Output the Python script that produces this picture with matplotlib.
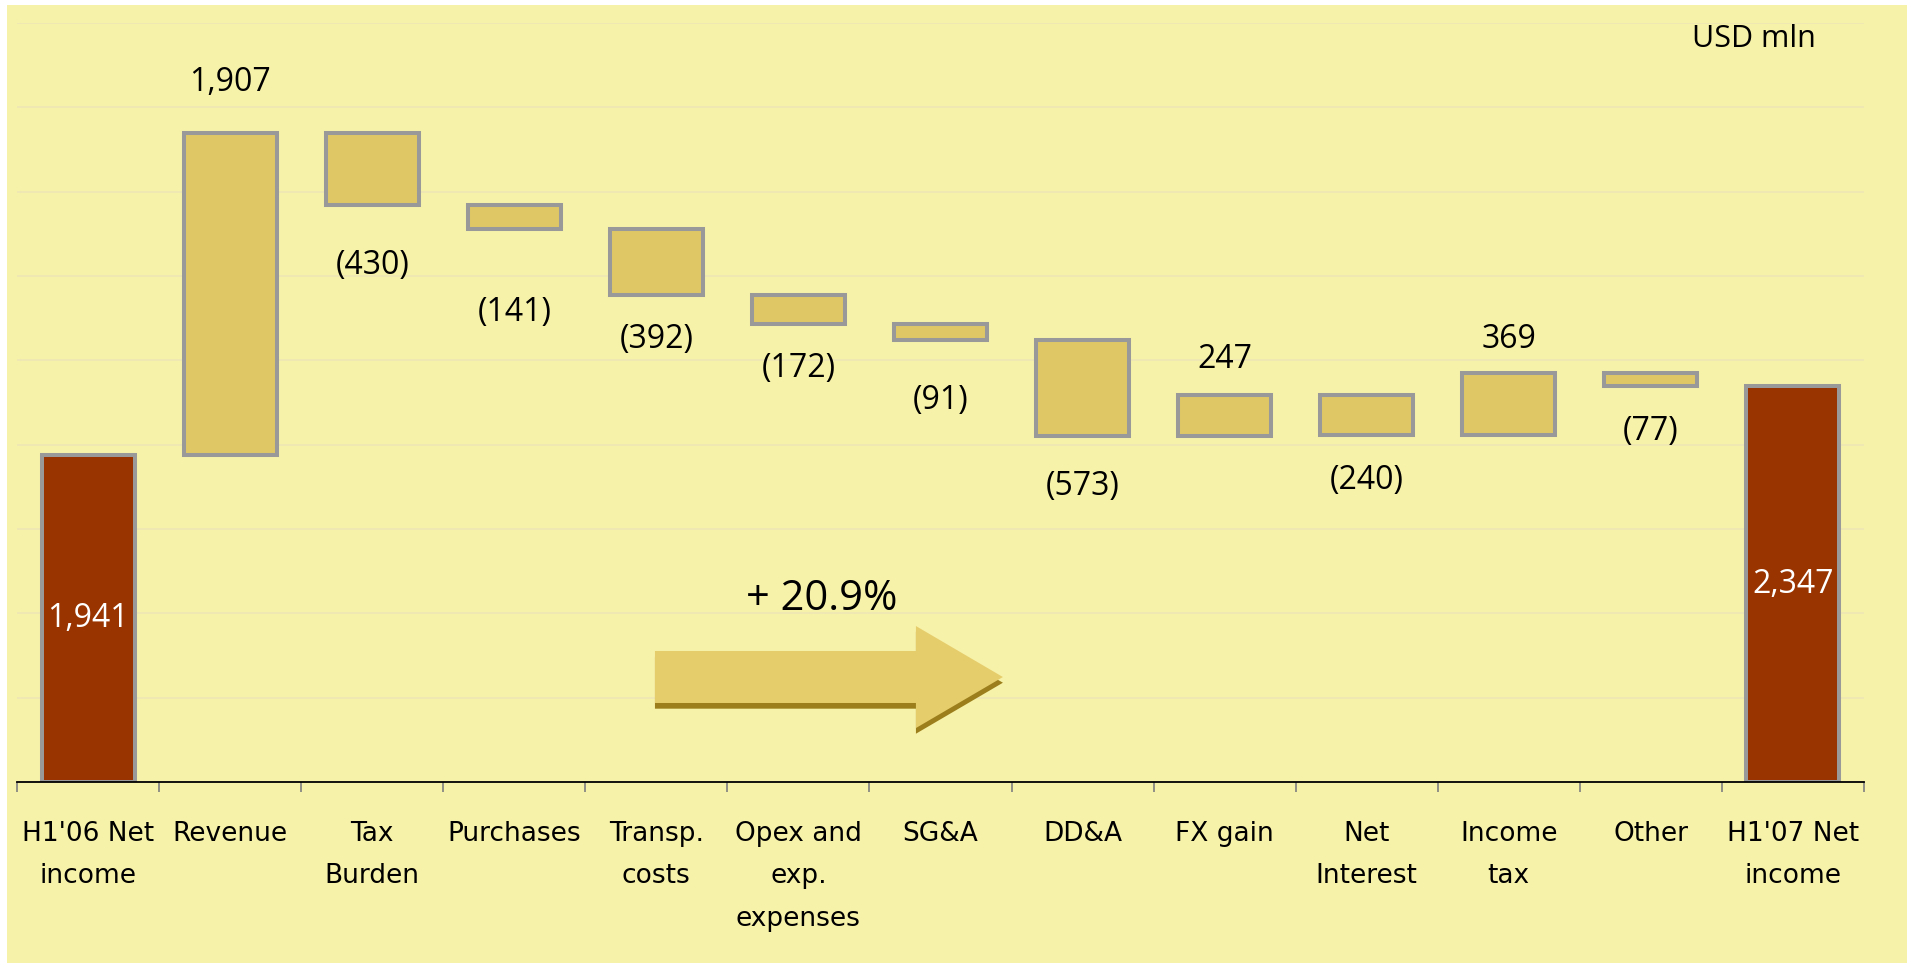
import numpy as np
import matplotlib.pyplot as plt
from matplotlib.patches import Rectangle, Polygon

categories = ["H1'06 Net\nincome", "Revenue", "Tax\nBurden", "Purchases", "Transp.\ncosts",
              "Opex and\nexp.\nexpenses", "SG&A", "DD&A", "FX gain", "Net\nInterest",
              "Income\ntax", "Other", "H1'07 Net\nincome"]
start_value = 1941
changes = [1907, -430, -141, -392, -172, -91, -573, 247, -240, 369, -77]
end_value = 2347
growth_label = "+ 20.9%"
unit_label = "USD mln"

# gap between bar edge and its label, in pixels
label_gap = [50, 60, 83, 44, 44, 61, 50, 35, 45, 33, 46]

bg = '#F7F2AA'
gold = '#DFC765'
red = '#993300'
edge = '#999999'
grid_c = '#EFE6B4'

W, H = 1909, 963
fig = plt.figure(figsize=(W / 100, H / 100), dpi=100)
fig.patch.set_facecolor('white')
fig.patches.append(Rectangle((7 / W, 0), 1900 / W, 958 / H, transform=fig.transFigure,
                             facecolor=bg, edgecolor='none', zorder=-10))

ax = fig.add_axes([17 / W, (H - 782) / H, 1847 / W, 759 / H])
ax.patch.set_visible(False)

x = np.arange(len(categories))
running = start_value + np.cumsum([0] + changes)
bottoms = [0]
heights = [start_value]
for i, c in enumerate(changes):
    bottoms.append(min(running[i], running[i + 1]))
    heights.append(abs(c))
bottoms.append(0)
heights.append(end_value)
colors = [red] + [gold] * len(changes) + [red]

ax.bar(x, heights, bottom=bottoms, width=0.655, color=colors, edgecolor=edge,
       linewidth=2.9, zorder=3)

px = 0.72  # points per pixel at dpi 100
for i, c in enumerate(changes):
    xi = i + 1
    if c > 0:
        txt = f"{c:,}"
        yv = bottoms[xi] + heights[xi]
        off = label_gap[i] * px
    else:
        txt = f"({-c:,})"
        yv = bottoms[xi]
        off = -label_gap[i] * px
    ax.annotate(txt, (xi, yv), xytext=(0, off), textcoords='offset points',
                ha='center', va='center', fontsize=23, family='Open Sans', color='black')

for xi, v in [(0, start_value), (len(categories) - 1, end_value)]:
    ax.text(xi, v / 2, f"{v:,}", ha='center', va='center', fontsize=23,
            family='Open Sans', color='white', zorder=4)

ax.set_xlim(-0.5, len(categories) - 0.5)
ax.set_ylim(0, 4500)
ax.set_yticks(np.arange(0, 4501, 500))
ax.yaxis.grid(True, color=grid_c, linewidth=1.2, zorder=0)
ax.tick_params(axis='y', left=False, labelleft=False)
for s in ['left', 'right', 'top']:
    ax.spines[s].set_visible(False)
ax.spines['bottom'].set_color('black')
ax.spines['bottom'].set_linewidth(1.3)
ax.spines['bottom'].set_zorder(5)

ax.set_xticks(x)
ax.set_xticklabels(categories, fontsize=19, family='DejaVu Sans', linespacing=1.82)
ax.tick_params(axis='x', which='major', length=0, pad=28)
ax.set_xticks(np.arange(-0.5, len(categories), 1), minor=True)
ax.tick_params(axis='x', which='minor', length=7, width=1.2, color='#7F7F7F', direction='out')

# growth arrow (decoration, axes fraction)
def arrow_pts(dy=0.0):
    return [(0.3454, 0.1726 + dy), (0.4867, 0.1726 + dy), (0.4867, 0.2055 + dy),
            (0.5338, 0.1383 + dy), (0.4867, 0.0711 + dy), (0.4867, 0.1041 + dy),
            (0.3454, 0.1041 + dy)]

ax.add_patch(Polygon(arrow_pts(-0.0075), closed=True, transform=ax.transAxes,
                     facecolor='#9C7F1C', edgecolor='none', zorder=2))
ax.add_patch(Polygon(arrow_pts(), closed=True, transform=ax.transAxes,
                     facecolor='#E6CD6C', edgecolor='none', zorder=2))
ax.text(0.4358, 0.241, growth_label, transform=ax.transAxes, ha='center', va='center',
        fontsize=30, family='Open Sans')

fig.text(1816 / W, (H - 39) / H, unit_label, ha='right', va='center', fontsize=22,
         family='Open Sans')

fig.savefig('out.png', dpi=100, facecolor=fig.get_facecolor())
